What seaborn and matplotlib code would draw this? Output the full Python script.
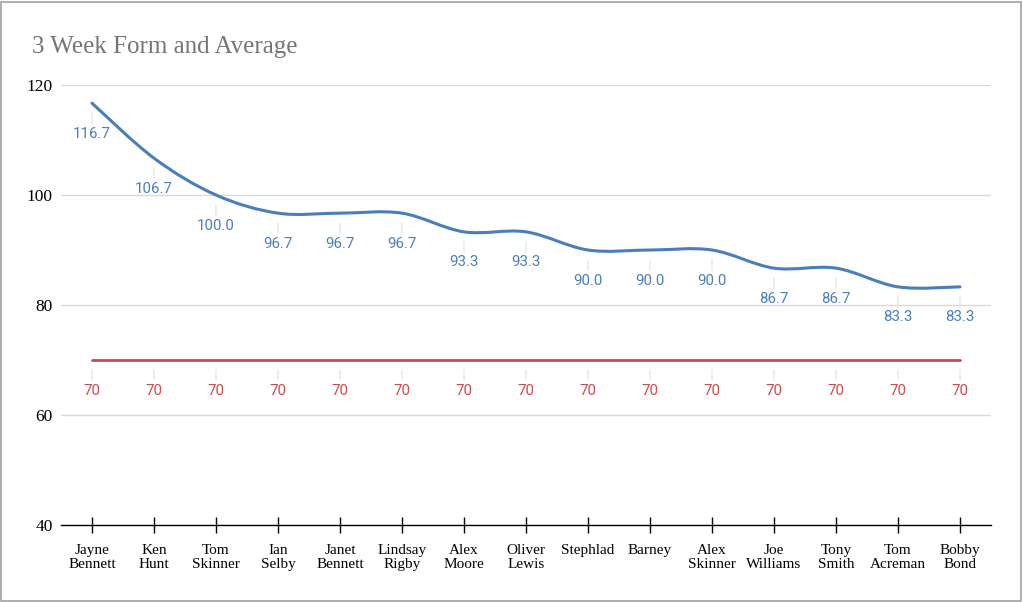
import numpy as np
import pandas as pd
import matplotlib.pyplot as plt
import seaborn as sns
from matplotlib.path import Path
from matplotlib.patches import PathPatch, Rectangle

players = [
    "Jayne\nBennett", "Ken\nHunt", "Tom\nSkinner", "Ian\nSelby", "Janet\nBennett",
    "Lindsay\nRigby", "Alex\nMoore", "Oliver\nLewis", "Stephlad", "Barney",
    "Alex\nSkinner", "Joe\nWilliams", "Tony\nSmith", "Tom\nAcreman", "Bobby\nBond",
]
form = [116.7, 106.7, 100.0, 96.7, 96.7, 96.7, 93.3, 93.3,
        90.0, 90.0, 90.0, 86.7, 86.7, 83.3, 83.3]
average = [70] * len(players)
y_ticks = [40, 60, 80, 100, 120]

BLUE = "#4a7ebb"
RED = "#cc4b4b"
SERIF = "Liberation Serif"


def smooth_path(xs, ys, tension=1 / 6):
    # Catmull-Rom style cubic bezier through every data point
    verts = [(xs[0], ys[0])]
    codes = [Path.MOVETO]
    n = len(xs)
    for i in range(n - 1):
        x0, y0 = (xs[i - 1], ys[i - 1]) if i > 0 else (xs[i], ys[i])
        x1, y1 = xs[i], ys[i]
        x2, y2 = xs[i + 1], ys[i + 1]
        x3, y3 = (xs[i + 2], ys[i + 2]) if i + 2 < n else (x2, y2)
        c1 = (x1 + (x2 - x0) * tension, y1 + (y2 - y0) * tension)
        c2 = (x2 - (x3 - x1) * tension, y2 - (y3 - y1) * tension)
        verts += [c1, c2, (x2, y2)]
        codes += [Path.CURVE4] * 3
    return Path(verts, codes)


def main():
    sns.set_style("white")
    plt.rcParams["font.family"] = ["Roboto", "DejaVu Sans"]

    df = pd.DataFrame({"pos": np.arange(len(players)), "form": form, "average": average})

    fig = plt.figure(figsize=(10.23, 6.02), dpi=100)
    ax = fig.add_axes([0.0596, 0.1279, 0.9091, 0.7309])

    sns.lineplot(data=df, x="pos", y="average", color=RED, linewidth=2, ax=ax)
    ax.add_patch(PathPatch(smooth_path(df["pos"].tolist(), form),
                           facecolor="none", edgecolor=BLUE, linewidth=2.2,
                           capstyle="round", zorder=3))

    for x, v in zip(df["pos"], form):
        ax.annotate(f"{v:.1f}", xy=(x, v), xytext=(0, -22), textcoords="offset points",
                    ha="center", va="center", fontsize=10.8, color=BLUE,
                    arrowprops=dict(arrowstyle="-", color="#e6e6e6", lw=1,
                                    shrinkA=0, shrinkB=7))
    for x, v in zip(df["pos"], average):
        ax.annotate(f"{v}", xy=(x, v), xytext=(0, -22), textcoords="offset points",
                    ha="center", va="center", fontsize=10.8, color=RED,
                    arrowprops=dict(arrowstyle="-", color="#e6e6e6", lw=1,
                                    shrinkA=0, shrinkB=7))

    ax.set_xlim(-0.5, len(players) - 0.5)
    ax.set_ylim(40, 120)
    ax.set_yticks(y_ticks)
    ax.set_yticklabels([str(t) for t in y_ticks], family=SERIF, fontsize=12.5, color="black")
    ax.set_xticks(df["pos"])
    ax.set_xticklabels(players, family=SERIF, fontsize=11, linespacing=1.15, color="black")
    ax.tick_params(axis="x", bottom=True, direction="inout", length=11, width=1,
                   color="black", pad=8)
    ax.tick_params(axis="y", left=False, length=0, pad=6)
    ax.yaxis.grid(True, color="#d9d9d9", linewidth=1)
    ax.set_axisbelow(True)
    ax.set_xlabel("")
    ax.set_ylabel("")
    for side in ["left", "right", "top"]:
        ax.spines[side].set_visible(False)
    ax.spines["bottom"].set_color("black")
    ax.spines["bottom"].set_linewidth(1)
    ax.spines["bottom"].set_zorder(4)

    fig.text(0.031, 0.922, "3 Week Form and Average", family=SERIF, fontsize=18,
             color="#757575", ha="left", va="center")
    fig.patches.append(Rectangle((0.001, 0.001), 0.997, 0.996, transform=fig.transFigure,
                                 fill=False, edgecolor="#a0a0a0", linewidth=1.2))

    fig.savefig("out.png", dpi=100)
    plt.close(fig)


if __name__ == "__main__":
    main()
